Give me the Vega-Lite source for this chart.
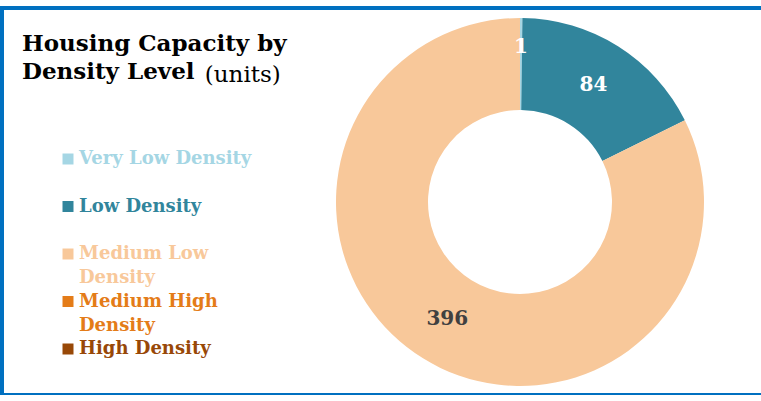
{
  "$schema": "https://vega.github.io/schema/vega-lite/v6.json",
  "autosize": {"type": "none"},
  "width": 761,
  "height": 387,
  "padding": {"left": 2, "top": 8, "right": 0, "bottom": 0},
  "background": "white",
  "view": {"stroke": "#0070C0", "strokeWidth": 4},
  "config": {"view": {"stroke": "#0070C0", "strokeWidth": 4}},
  "title": {
    "text": ["Housing Capacity by", "Density Level"],
    "subtitle": "\u200b\u00a0\u00a0\u00a0\u00a0\u00a0\u00a0\u00a0\u00a0\u00a0\u00a0\u00a0\u00a0\u00a0\u00a0\u00a0\u00a0\u00a0\u00a0\u00a0\u00a0\u00a0\u00a0\u00a0\u00a0\u00a0(units)",
    "anchor": "start",
    "frame": "group",
    "font": "DejaVu Serif",
    "fontSize": 23,
    "fontWeight": "bold",
    "color": "#000000",
    "lineHeight": 28,
    "subtitleFont": "DejaVu Serif",
    "subtitleFontSize": 23,
    "subtitleFontWeight": "normal",
    "subtitleColor": "#000000",
    "subtitlePadding": -20,
    "offset": 0,
    "dx": 20,
    "dy": 79
  },
  "data": {
    "values": [
      {"level": "Very Low Density", "units": 1, "idx": 1},
      {"level": "Low Density", "units": 84, "idx": 2},
      {"level": "Medium Low Density", "units": 396, "idx": 3},
      {"level": "Medium High Density", "units": 0, "idx": 4},
      {"level": "High Density", "units": 0, "idx": 5}
    ]
  },
  "encoding": {
    "theta": {"field": "units", "type": "quantitative", "stack": true},
    "order": {"field": "idx", "type": "quantitative", "sort": "ascending"}
  },
  "layer": [
    {
      "mark": {"type": "arc", "innerRadius": 92, "outerRadius": 184, "x": 518, "y": 194},
      "encoding": {
        "color": {
          "field": "level",
          "type": "nominal",
          "scale": {
            "domain": ["Very Low Density", "Low Density", "Medium Low Density", "Medium High Density", "High Density"],
            "range": ["#A5D6E4", "#31859C", "#F8C89A", "#E47C18", "#984807"]
          },
          "legend": {
            "orient": "none",
            "legendX": 57,
            "legendY": 142,
            "title": null,
            "padding": 0,
            "symbolType": "square",
            "symbolSize": 121,
            "symbolStrokeWidth": 0,
            "symbolOpacity": 1,
            "labelFont": "DejaVu Serif",
            "labelFontSize": 18,
            "labelFontWeight": "bold",
            "labelOffset": 2,
            "labelLimit": 300,
            "labelBaseline": "middle",
            "gridAlign": "all",
            "rowPadding": 5.5,
            "labelExpr": "datum.label == 'Medium Low Density' ? ['Medium Low', 'Density'] : datum.label == 'Medium High Density' ? ['Medium High', 'Density'] : datum.label",
            "encode": {
              "labels": {
                "update": {
                  "fill": {"signal": "scale('color', datum.value)"},
                  "lineHeight": {"value": 24}
                }
              }
            }
          }
        }
      }
    },
    {
      "transform": [{"filter": "datum.units > 0"}],
      "mark": {
        "type": "text",
        "x": 518,
        "y": 194,
        "radius": {"expr": "datum.units == 1 ? 155 : 138"},
        "font": "DejaVu Serif",
        "fontSize": 20,
        "fontWeight": "bold"
      },
      "encoding": {
        "text": {"field": "units", "type": "quantitative"},
        "color": {
          "condition": {"test": "datum.units > 100", "value": "#404040"},
          "value": "#FFFFFF"
        }
      }
    }
  ]
}
